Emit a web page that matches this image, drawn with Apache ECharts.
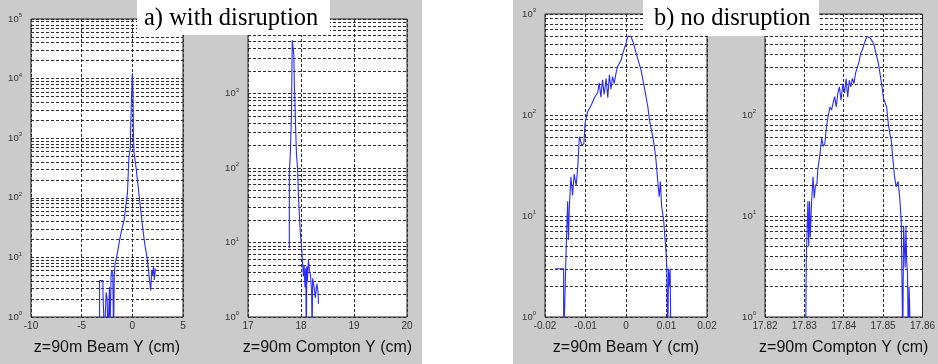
<!DOCTYPE html>
<html><head><meta charset="utf-8">
<script src="https://cdn.jsdelivr.net/npm/echarts@6/dist/echarts.min.js"></script>
<style>html,body{margin:0;padding:0;background:#fff}#c{width:938px;height:364px}</style>
</head><body><div id="c"></div>
<script>
// ---- data ----
const beamA_x = [-3.23,-3.23,-2.9,-2.9,-2.75,-2.75,-2.58,-2.49,-2.4,-2.26,-2.2,-2.1,-2.03,-1.93,-1.85,-1.78,-1.7,-1.61,-1.45,-1.29,-1.13,-0.97,-0.81,-0.65,-0.48,-0.39,-0.33,-0.23,-0.2,-0.16,-0.07,0,0.07,0.11,0.18,0.36,0.54,0.72,0.9,1.09,1.27,1.45,1.56,1.7,1.81,1.92,1.99,2.1,2.17,2.28];
const beamA_y = [0.5,4.1,4.1,2.5,2.5,0.5,2.6,2.0,0.5,3.2,0.5,5,6.1,5.5,0.5,5,8,9,12.5,18,25,33,42,71,120,290,490,630,700,1560,5700,12300,5600,1050,560,330,175,91,48,25,15,10,7,4.2,2.8,6.1,5,7,4.2,6.5];

const comptonA_x = [17.78,17.78,17.80,17.82,17.835,17.845,17.855,17.865,17.875,17.885,17.9,17.915,17.935,17.95,17.97,17.99,18.01,18.03,18.045,18.06,18.075,18.09,18.10,18.11,18.12,18.14,18.16,18.18,18.2,18.21,18.22,18.25,18.27,18.3,18.32,18.33];
const comptonA_y = [8.4,89,160,510,5200,5500,5000,3300,1300,770,320,150,100,45,23,12.6,9,5.3,3.5,5,2.5,4.5,0.5,4.8,3,5.8,4.2,3.6,2.2,0.5,3.3,2.5,1.8,2.8,2.2,1.5];

const beamB_x = [-0.0175,-0.0154,-0.0154,-0.0150,-0.0148,-0.0144,-0.0142,-0.0140,-0.0136,-0.0132,-0.0128,-0.0123,-0.0119,-0.0115,-0.0113,-0.0109,-0.0104,-0.0101,-0.0095,-0.0086,-0.0078,-0.0070,-0.0066,-0.0062,-0.0058,-0.0054,-0.0049,-0.0045,-0.0041,-0.0037,-0.0033,-0.0029,-0.0025,-0.0021,-0.0012,-0.0008,0,0.0004,0.0008,0.0012,0.0017,0.0025,0.0037,0.0045,0.0054,0.0058,0.0066,0.0070,0.0074,0.0078,0.0082,0.0085,0.0088,0.0093,0.0096,0.0099,0.0101,0.0103,0.0105,0.0107,0.0109,0.0111];
const beamB_y = [3,3,0.5,0.5,4.3,14,5.8,12,24.5,16,26,20,31,61,63,50,52,83,107,125,148,166,208,150,223,160,230,148,250,180,240,205,255,300,350,408,510,600,580,600,535,410,280,190,120,89,61,49,36,23,15.5,22,12.4,9.1,6.2,4.3,2.9,0.5,3,2,3,0.5];

const comptonB_x = [17.8303,17.8305,17.8309,17.8311,17.8313,17.8315,17.8318,17.8322,17.8325,17.8328,17.8332,17.8334,17.8340,17.8344,17.8348,17.8352,17.8356,17.8360,17.8365,17.8369,17.8373,17.8377,17.8381,17.8385,17.8389,17.8393,17.8398,17.8402,17.8406,17.8410,17.8414,17.8418,17.8422,17.8426,17.8430,17.8435,17.8439,17.8443,17.8447,17.8451,17.8455,17.8459,17.8463,17.8467,17.8472,17.8476,17.8480,17.8488,17.8496,17.8501,17.8509,17.8513,17.8517,17.8521,17.8525,17.8529,17.8533,17.8538,17.8542,17.8546,17.8550,17.8552,17.8554,17.8556,17.8558,17.8560,17.8562,17.8564,17.8566,17.8570];
const comptonB_y = [0.5,4,14,5,14,6.2,13,24.5,15,20,21,28.5,42,59,49,52,76,96,120,112,132,152,120,165,190,140,205,165,230,150,220,190,230,205,260,300,337,408,440,495,550,600,610,580,590,510,440,325,205,147,120,83,66,55,36,24.5,19.5,22,15.5,9,0.5,8,7.8,3.1,7.8,3.5,2.7,0.5,2,0.5];

const xNames = ['z=90m Beam Y (cm)','z=90m Compton Y (cm)','z=90m Beam Y (cm)','z=90m Compton Y (cm)'];
const xMin = [-10, 17, -0.02, 17.82];
const xMax = [5, 20, 0.02, 17.86];
const xStep = [5, 1, 0.01, 0.01];
const yMaxExp = [5, 4, 3, 3];
const titles = ['a) with disruption', 'b) no disruption'];
const minorMult = [2,3,4,5,6,7,8,9];

// ---- layout ----
const grids = [
  {left:31, top:19, width:152, height:298},
  {left:248, top:19, width:159, height:298},
  {left:545, top:14, width:162, height:303},
  {left:765, top:14, width:162, height:303}
];
const seriesData = [
  [beamA_x, beamA_y],[comptonA_x, comptonA_y],[beamB_x, beamB_y],[comptonB_x, comptonB_y]
];
const gridLine = {type:[3,2], color:'#2e2e2e', width:1};
const FONT = '"Liberation Sans", Arial, sans-serif';

const option = {
  animation:false,
  backgroundColor:'#fff',
  grid: grids.map(g => Object.assign({show:true, backgroundColor:'#fff', borderColor:'#222', borderWidth:1}, g)),
  xAxis: grids.map((g,i) => ({
    type:'value', gridIndex:i, min:xMin[i], max:xMax[i], interval:xStep[i],
    axisLine:{show:false}, axisTick:{show:false},
    axisLabel:{fontSize:10, color:'#333', margin:4, fontFamily:FONT, showMinLabel:true, showMaxLabel:true,
      formatter: v => String(+v.toFixed(4))},
    splitLine:{show:true, lineStyle:gridLine},
    name:xNames[i], nameLocation:'middle', nameGap:23,
    nameTextStyle:{fontSize:16, color:'#111', fontFamily:FONT}
  })),
  yAxis: grids.map((g,i) => ({
    type:'log', logBase:10, gridIndex:i, min:1, max:Math.pow(10,yMaxExp[i]), splitNumber:yMaxExp[i],
    axisLine:{show:false}, axisTick:{show:false},
    splitLine:{show:true, lineStyle:gridLine},
    axisLabel:{margin:9, fontFamily:FONT,
      formatter: v => '{b|10}{s|' + Math.round(Math.log10(v)) + '}',
      rich:{b:{fontSize:9.5, color:'#333', fontFamily:FONT}, s:{fontSize:6, color:'#333', fontFamily:FONT, padding:[0,0,7,0]}}
    }
  })),
  series: []
};
grids.forEach((g,i) => {
  const levels = [];
  for (let e = 0; e < yMaxExp[i]; e++) minorMult.forEach(m => levels.push({yAxis: m*Math.pow(10,e)}));
  option.series.push({
    type:'line', xAxisIndex:i, yAxisIndex:i, data:[], z:1, silent:true,
    markLine:{silent:true, symbol:'none', label:{show:false}, lineStyle:gridLine, emphasis:{disabled:true}, data:levels, animation:false}
  });
  const [xs, ys] = seriesData[i];
  option.series.push({
    type:'line', xAxisIndex:i, yAxisIndex:i, z:5, clip:true, showSymbol:false, symbol:'none',
    lineStyle:{color:'#2a2aff', width:1.1}, data: xs.map((x,k) => [x, ys[k]])
  });
});
option.graphic = [
  {type:'rect', z:-100, shape:{x:0,y:0,width:422,height:364}, style:{fill:'#cbcbcb'}},
  {type:'rect', z:-100, shape:{x:513,y:0,width:425,height:364}, style:{fill:'#cbcbcb'}},
  {type:'rect', z:100, shape:{x:137,y:0,width:193,height:35}, style:{fill:'#fff'}},
  {type:'text', z:101, x:144, y:19, style:{text:titles[0], fill:'#000', font:'24.5px "Liberation Serif", "Times New Roman", serif', verticalAlign:'middle'}},
  {type:'rect', z:100, shape:{x:643,y:0,width:176,height:36}, style:{fill:'#fff'}},
  {type:'text', z:101, x:654, y:19, style:{text:titles[1], fill:'#000', font:'24.5px "Liberation Serif", "Times New Roman", serif', verticalAlign:'middle'}}
];
const chart = echarts.init(document.getElementById('c'), null, {renderer:'canvas'});
chart.setOption(option);
</script></body></html>
